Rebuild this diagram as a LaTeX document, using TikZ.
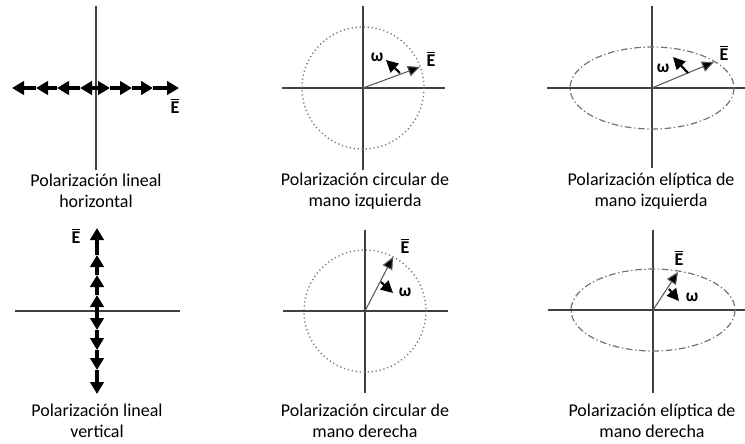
\documentclass[tikz,border=0pt]{standalone}
\usepackage{fontspec}
\setmainfont{Carlito}
\usetikzlibrary{arrows.meta}
\newcommand\ebarlab{\vbox{\hrule height 1pt\kern1.3pt\hbox{E}}}
\begin{document}
\begin{tikzpicture}[x=0.75pt,y=-0.75pt,
 axis/.style={draw=black!75, line width=1pt},
 chainarr/.style={line width=2.3pt, -{Triangle[length=9pt,width=10pt]}},
 evec/.style={draw=black!65, line width=0.8pt, -{Triangle[length=9pt,width=8pt,fill=black]}},
 wvec/.style={line width=1.6pt, -{Triangle[length=9pt,width=9pt]}},
 dotcirc/.style={draw=black!55, line width=1pt, dash pattern=on 0.9pt off 2.1pt},
 dashell/.style={draw=black!55, line width=0.9pt, dash pattern=on 5pt off 2pt on 1pt off 2pt},
 lab/.style={font=\fontsize{13.5}{15.75}\selectfont, align=center, inner sep=0pt},
 sym/.style={font=\fontsize{13.5}{15}\selectfont\bfseries, inner sep=0pt},
 wsym/.style={font=\fontsize{13}{15}\selectfont\bfseries, inner sep=0pt}]
\useasboundingbox (0,0) rectangle (745,443);

% ---------- Panel 1: linear horizontal ----------
\coordinate (o1) at (96,88);
\draw[axis] (96,6) -- (96,170);
\foreach \a/\b in {96/80, 80/57, 57/36, 36/12, 96/110, 110/132, 132/153, 153/179}
  \draw[chainarr] (\a,88) -- (\b,88);
\node[sym] (e1) at (175,106) {\ebarlab};
\node[lab] (t1) at (96,191) {Polarización lineal\\horizontal};

% ---------- Panel 2: circular left ----------
\coordinate (o2) at (363,88);
\coordinate (p2) at (420,67);
\coordinate (w2a) at (400,73);
\coordinate (w2b) at (386,60);
\draw[axis] (363,6) -- (363,170);
\draw[axis] (282,88) -- (445,88);
\draw[dotcirc] (o2) circle[radius=61];
\draw[evec] (o2) -- (p2);
\draw[wvec] (w2a) -- (w2b);
\node[wsym] (w2) at (377,57) {ω};
\node[sym] (e2) at (431,59) {\ebarlab};
\node[lab] (t2) at (365,191) {Polarización circular de\\mano izquierda};

% ---------- Panel 3: elliptical left ----------
\coordinate (o3) at (652,88);
\coordinate (p3) at (714,62);
\coordinate (w3a) at (688,73);
\coordinate (w3b) at (673,57);
\draw[axis] (652,6) -- (652,168);
\draw[axis] (547,88) -- (745,88);
\draw[dashell] (o3) ellipse[x radius=82, y radius=41];
\draw[evec] (o3) -- (p3);
\draw[wvec] (w3a) -- (w3b);
\node[wsym] (w3) at (663,68) {ω};
\node[sym] (e3) at (724,53) {\ebarlab};
\node[lab] (t3) at (651,191) {Polarización elíptica de\\mano izquierda};

% ---------- Panel 4: linear vertical ----------
\coordinate (o4) at (97,311);
\draw[axis] (15,311) -- (180,311);
\foreach \a/\b in {311/295, 295/275, 275/255, 255/228, 311/330, 330/350, 350/370, 370/394}
  \draw[chainarr] (97,\a) -- (97,\b);
\node[sym] (e4) at (76,236) {\ebarlab};
\node[lab] (t4) at (97,421) {Polarización lineal\\vertical};

% ---------- Panel 5: circular right ----------
\coordinate (o5) at (365,311);
\coordinate (p5) at (393,257);
\coordinate (w5a) at (381,282);
\coordinate (w5b) at (393,293);
\draw[axis] (365,230) -- (365,393);
\draw[axis] (283,311) -- (448,311);
\draw[dotcirc] (o5) circle[radius=61];
\draw[evec] (o5) -- (p5);
\draw[wvec] (w5a) -- (w5b);
\node[wsym] (w5) at (405,292) {ω};
\node[sym] (e5) at (405,246) {\ebarlab};
\node[lab] (t5) at (365,421) {Polarización circular de\\mano derecha};

% ---------- Panel 6: elliptical right ----------
\coordinate (o6) at (653,310);
\coordinate (p6) at (678,272);
\coordinate (w6a) at (669,289);
\coordinate (w6b) at (679,301);
\draw[axis] (653,230) -- (653,393);
\draw[axis] (548,310) -- (745,310);
\draw[dashell] (o6) ellipse[x radius=82, y radius=41];
\draw[evec] (o6) -- (p6);
\draw[wvec] (w6a) -- (w6b);
\node[wsym] (w6) at (692,297) {ω};
\node[sym] (e6) at (679,258) {\ebarlab};
\node[lab] (t6) at (652,421) {Polarización elíptica de\\mano derecha};
\end{tikzpicture}
\end{document}
